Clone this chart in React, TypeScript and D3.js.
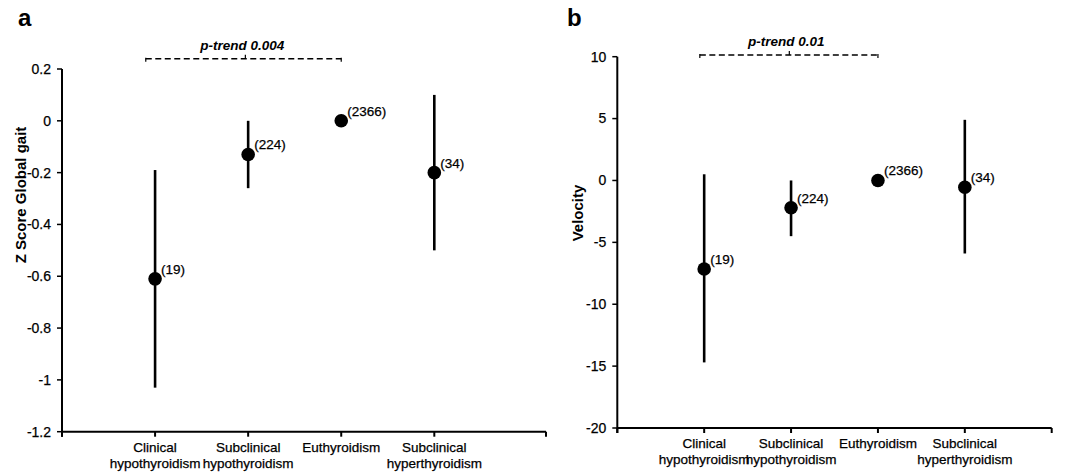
import React from "react";
import * as d3 from "d3";

const categories: string[][] = [
  ["Clinical", "hypothyroidism"],
  ["Subclinical", "hypothyroidism"],
  ["Euthyroidism"],
  ["Subclinical", "hyperthyroidism"],
];
const nLabels = ["(19)", "(224)", "(2366)", "(34)"];

const zMean = [-0.61, -0.13, 0, -0.2];
const zLow = [-1.03, -0.26, 0, -0.5];
const zHigh = [-0.19, 0, 0, 0.1];
const zTicks = [0.2, 0, -0.2, -0.4, -0.6, -0.8, -1, -1.2];

const vMean = [-7.15, -2.2, 0, -0.55];
const vLow = [-14.7, -4.5, 0, -5.9];
const vHigh = [0.5, 0, 0, 4.9];
const vTicks = [10, 5, 0, -5, -10, -15, -20];

const FONT = "'Liberation Sans', Arial, Helvetica, sans-serif";
const TXT = { fill: "#000", stroke: "#000", strokeWidth: 0.25 };

type PanelProps = {
  letter: string;
  letterX: number;
  x0: number;
  x1: number;
  xMax: number;
  yTop: number;
  yBottom: number;
  yDomain: [number, number];
  ticks: number[];
  mean: number[];
  low: number[];
  high: number[];
  title: string;
  titleX: number;
  titleY: number;
  pText: string;
  bracketFrom: number;
  bracketTo: number;
  bracketMid: number;
  bracketY: number;
};

function Panel(p: PanelProps) {
  const x = d3.scaleLinear().domain([0, p.xMax]).range([p.x0, p.x1]);
  const y = d3.scaleLinear().domain(p.yDomain).range([p.yBottom, p.yTop]);
  const axisY = y(p.yDomain[0]);
  const bY = y(p.bracketY);
  const idx = d3.range(categories.length);
  const xTicks = [0, ...idx.map((i) => i + 1), p.xMax];
  return (
    <g>
      <text x={p.letterX} y={26} fontFamily={FONT} fontWeight="bold" fontSize={24} fill="#000">
        {p.letter}
      </text>
      {/* y axis */}
      <line x1={p.x0} x2={p.x0} y1={y(p.yDomain[1])} y2={axisY + 5} stroke="#000" strokeWidth={2} />
      {p.ticks.map((t) => (
        <g key={t}>
          <line x1={p.x0 - 5} x2={p.x0} y1={y(t)} y2={y(t)} stroke="#000" strokeWidth={1.5} />
          <text
            x={p.x0 - 11}
            y={y(t)}
            dy="0.35em"
            textAnchor="end"
            fontFamily={FONT}
            fontSize={14}
            {...TXT}
          >
            {String(t)}
          </text>
        </g>
      ))}
      {/* x axis */}
      <line x1={p.x0} x2={x(p.xMax)} y1={axisY} y2={axisY} stroke="#000" strokeWidth={2} />
      {xTicks.map((t) => (
        <line key={t} x1={x(t)} x2={x(t)} y1={axisY} y2={axisY + 5} stroke="#000" strokeWidth={2} />
      ))}
      {categories.map((c, i) => (
        <text key={i} textAnchor="middle" fontFamily={FONT} fontSize={13.5} {...TXT}>
          {c.map((line, j) => (
            <tspan key={j} x={x(i + 1)} y={axisY + 20 + j * 16}>
              {line}
            </tspan>
          ))}
        </text>
      ))}
      {/* y title */}
      <text
        transform={`translate(${p.titleX},${p.titleY}) rotate(-90)`}
        textAnchor="middle"
        dy="0.35em"
        fontFamily={FONT}
        fontWeight="bold"
        fontSize={15}
        fill="#000"
      >
        {p.title}
      </text>
      {/* error bars */}
      {idx.map((i) =>
        p.high[i] !== p.low[i] ? (
          <line
            key={"e" + i}
            x1={x(i + 1)}
            x2={x(i + 1)}
            y1={y(p.high[i])}
            y2={y(p.low[i])}
            stroke="#000"
            strokeWidth={2.6}
          />
        ) : null
      )}
      {idx.map((i) => (
        <circle key={"c" + i} cx={x(i + 1)} cy={y(p.mean[i])} r={6.8} fill="#000" />
      ))}
      {idx.map((i) => (
        <text
          key={"n" + i}
          x={x(i + 1) + 6}
          y={y(p.mean[i]) - 5}
          fontFamily={FONT}
          fontSize={13.5}
          {...TXT}
        >
          {nLabels[i]}
        </text>
      ))}
      {/* p-trend bracket */}
      <line
        x1={x(p.bracketFrom)}
        x2={x(p.bracketTo)}
        y1={bY}
        y2={bY}
        stroke="#000"
        strokeWidth={1.5}
        strokeDasharray="6,3.5"
      />
      <line x1={x(p.bracketFrom)} x2={x(p.bracketFrom)} y1={bY - 1} y2={bY + 3} stroke="#000" strokeWidth={1.2} />
      <line x1={x(p.bracketTo)} x2={x(p.bracketTo)} y1={bY - 1} y2={bY + 3} stroke="#000" strokeWidth={1.2} />
      <line x1={x(p.bracketMid)} x2={x(p.bracketMid)} y1={bY - 4} y2={bY} stroke="#000" strokeWidth={1.2} />
      <text
        x={x(p.bracketMid) - 3}
        y={bY - 8.5}
        textAnchor="middle"
        fontFamily={FONT}
        fontWeight="bold"
        fontStyle="italic"
        fontSize={13.5}
        fill="#000"
      >
        {p.pText}
      </text>
    </g>
  );
}

export default function App() {
  return (
    <svg
      width={1072}
      height={475}
      style={{ position: "absolute", left: 0, top: 0, background: "#fff" }}
    >
      <rect width={1072} height={475} fill="#fff" />
      <Panel
        letter="a"
        letterX={18}
        x0={62}
        x1={546}
        xMax={5.2}
        yTop={69}
        yBottom={431.7}
        yDomain={[-1.2, 0.2]}
        ticks={zTicks}
        mean={zMean}
        low={zLow}
        high={zHigh}
        title="Z Score Global gait"
        titleX={21}
        titleY={195}
        pText="p-trend 0.004"
        bracketFrom={0.9}
        bracketTo={3}
        bracketMid={1.97}
        bracketY={0.24}
      />
      <Panel
        letter="b"
        letterX={567}
        x0={617.3}
        x1={1051.7}
        xMax={5}
        yTop={56.7}
        yBottom={428}
        yDomain={[-20, 10]}
        ticks={vTicks}
        mean={vMean}
        low={vLow}
        high={vHigh}
        title="Velocity"
        titleX={578}
        titleY={213}
        pText="p-trend 0.01"
        bracketFrom={0.95}
        bracketTo={3}
        bracketMid={1.98}
        bracketY={10.14}
      />
    </svg>
  );
}
